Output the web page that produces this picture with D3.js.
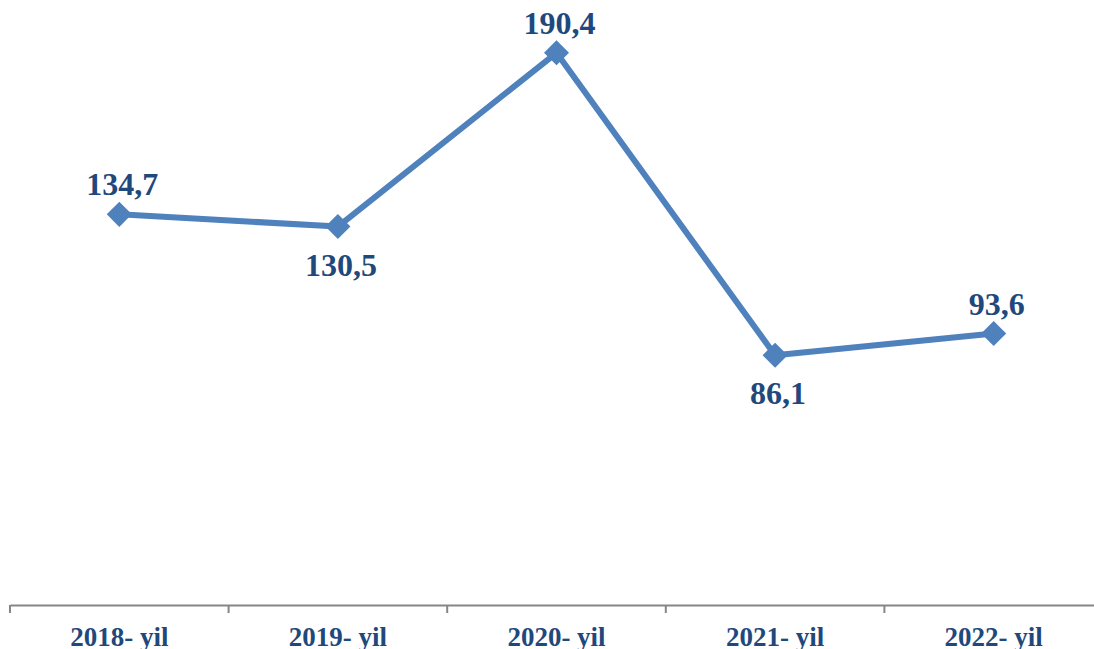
<!DOCTYPE html>
<html>
<head>
<meta charset="utf-8">
<script src="https://cdn.jsdelivr.net/npm/d3@7"></script>
<style>
  body { margin: 0; background: #fff; }
  .axis-label { font-family: "Liberation Serif", "Times New Roman", serif; font-weight: bold; fill: #1f497d; }
</style>
</head>
<body>
<div id="chart"></div>
<script>
// data
var years = ["2018- yil", "2019- yil", "2020- yil", "2021- yil", "2022- yil"];
var values = [134.7, 130.5, 190.4, 86.1, 93.6];
var valueLabels = ["134,7", "130,5", "190,4", "86,1", "93,6"];

var width = 1094, height = 649;
var margin = { top: 25, right: 0, bottom: 44, left: 10 };

var svg = d3.select("#chart")
    .append("svg")
    .attr("width", width)
    .attr("height", height);

// x band scale, one band per year
var x = d3.scaleBand()
    .domain(years)
    .range([margin.left, margin.left + 5 * 218.6]);

var y = d3.scaleLinear()
    .domain([0, 200])
    .range([height - margin.bottom, margin.top]);

// x axis
var xAxis = svg.append("g")
    .attr("transform", "translate(0," + y(0) + ")")
    .call(d3.axisBottom(x).tickSize(0).tickFormat(""));
xAxis.select(".domain").attr("stroke", "#868686").attr("stroke-width", 2);

// tick marks between categories
var edges = years.map(function (d) { return x(d); });
svg.append("g")
    .selectAll("line")
    .data(edges)
    .enter()
    .append("line")
    .attr("x1", function (d) { return d; })
    .attr("x2", function (d) { return d; })
    .attr("y1", y(0))
    .attr("y2", y(0) + 8)
    .attr("stroke", "#868686")
    .attr("stroke-width", 2);

// category labels
svg.append("g")
    .selectAll("text")
    .data(years)
    .enter()
    .append("text")
    .attr("class", "axis-label")
    .attr("x", function (d) { return x(d) + x.bandwidth() / 2; })
    .attr("y", 646)
    .attr("text-anchor", "middle")
    .style("font-size", "27px")
    .text(function (d) { return d; });

// the line
var line = d3.line()
    .x(function (d, i) { return x(years[i]) + x.bandwidth() / 2; })
    .y(function (d) { return y(d); });

svg.append("path")
    .datum(values)
    .attr("d", line)
    .attr("fill", "none")
    .attr("stroke", "#4f81bd")
    .attr("stroke-width", 6)
    .attr("stroke-linejoin", "round");

// diamond markers
svg.append("g")
    .selectAll("path")
    .data(values)
    .enter()
    .append("path")
    .attr("d", d3.symbol().type(d3.symbolDiamond2).size(400))
    .attr("transform", function (d, i) {
        return "translate(" + (x(years[i]) + x.bandwidth() / 2) + "," + y(d) + ")";
    })
    .attr("fill", "#4f81bd");

// value labels: below the point when it dropped from the previous year
svg.append("g")
    .selectAll("text")
    .data(values)
    .enter()
    .append("text")
    .attr("class", "axis-label")
    .attr("x", function (d, i) { return x(years[i]) + x.bandwidth() / 2 + 3; })
    .attr("y", function (d, i) {
        var below = i > 0 && d < values[i - 1];
        return below ? y(d) + 49 : y(d) - 19;
    })
    .attr("text-anchor", "middle")
    .style("font-size", "32px")
    .text(function (d, i) { return valueLabels[i]; });
</script>
</body>
</html>
